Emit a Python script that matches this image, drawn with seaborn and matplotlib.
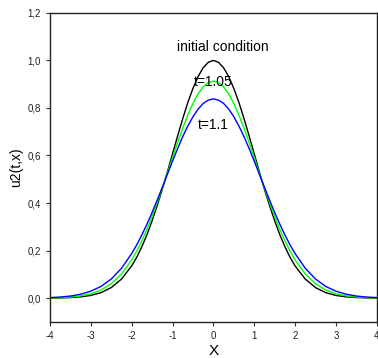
import matplotlib
matplotlib.use("Agg")
import matplotlib.pyplot as plt
import seaborn as sns
import pandas as pd
from matplotlib.ticker import FuncFormatter

sns.set_style("ticks")
plt.rcParams['font.family'] = ['Liberation Sans', 'DejaVu Sans']
plt.rcParams['text.color'] = 'black'
plt.rcParams['axes.labelcolor'] = 'black'

x_half = [0.0, 0.125, 0.25, 0.375, 0.5, 0.625, 0.75, 0.875, 1.0, 1.125, 1.25, 1.375, 1.5, 1.625, 1.75, 1.875,
          2.0, 2.25, 2.5, 2.75, 3.0, 3.25, 3.5, 3.75, 4.0]
u_init_half = [1.0, 0.992, 0.969, 0.932, 0.882, 0.823, 0.755, 0.682, 0.607, 0.531, 0.458, 0.389, 0.325, 0.267, 0.216, 0.172,
               0.135, 0.0796, 0.0439, 0.0228, 0.0111, 0.0051, 0.0022, 0.0009, 0.0003]
u_t105_half = [0.913, 0.907, 0.889, 0.859, 0.819, 0.770, 0.715, 0.654, 0.591, 0.526, 0.463, 0.401, 0.343, 0.289, 0.241, 0.198,
               0.160, 0.101, 0.060, 0.034, 0.018, 0.0092, 0.0044, 0.0020, 0.0009]
u_t11_half = [0.838, 0.833, 0.819, 0.795, 0.763, 0.724, 0.679, 0.629, 0.576, 0.521, 0.466, 0.412, 0.360, 0.311, 0.266, 0.224,
              0.187, 0.125, 0.080, 0.049, 0.029, 0.016, 0.0085, 0.0043, 0.0021]

x_ticks = [-4, -3, -2, -1, 0, 1, 2, 3, 4]
y_ticks = [0.0, 0.2, 0.4, 0.6, 0.8, 1.0, 1.2]

def full(xs, ys):
    xx = [-v for v in xs[:0:-1]] + xs
    yy = ys[:0:-1] + ys
    return xx, yy

frames = []
for name, ys in [("init", u_init_half), ("t105", u_t105_half), ("t11", u_t11_half)]:
    xx, yy = full(x_half, ys)
    frames.append(pd.DataFrame({"x": xx, "u": yy, "s": name}))
df = pd.concat(frames)

fig = plt.figure(figsize=(3.78, 3.58), dpi=100)
ax = fig.add_axes([0.132, 0.101, 0.865, 0.863])

sns.lineplot(data=df, x="x", y="u", hue="s", palette={"init": "black", "t105": "#00ff00", "t11": "#0000ff"},
             linewidth=1.0, legend=False, ax=ax, sort=False)

ax.set_xlim(-4, 4)
ax.set_ylim(-0.1, 1.2)
ax.set_xticks(x_ticks)
ax.set_yticks(y_ticks)
ax.yaxis.set_major_formatter(FuncFormatter(lambda v, p: f"{v:.1f}".replace(".", ",")))
ax.xaxis.set_major_formatter(FuncFormatter(lambda v, p: f"{int(round(v))}"))
ax.tick_params(labelsize=7, colors="#333333", length=3, width=0.8, labelcolor="#222222")
for sp in ax.spines.values():
    sp.set_visible(True)
    sp.set_color("#222222")
    sp.set_linewidth(1.0)

ax.set_xlabel("X", fontsize=11, labelpad=2, color="black")
ax.set_ylabel("u2(t,x)", fontsize=10, labelpad=3, color="black")

ax.text(0.23, 1.055, "initial condition", fontsize=10, ha="center", va="center", color="black")
ax.text(0.0, 0.91, "t=1.05", fontsize=10, ha="center", va="center", color="black")
ax.text(0.0, 0.73, "t=1.1", fontsize=10, ha="center", va="center", color="black")

fig.savefig("out.png", dpi=100)
